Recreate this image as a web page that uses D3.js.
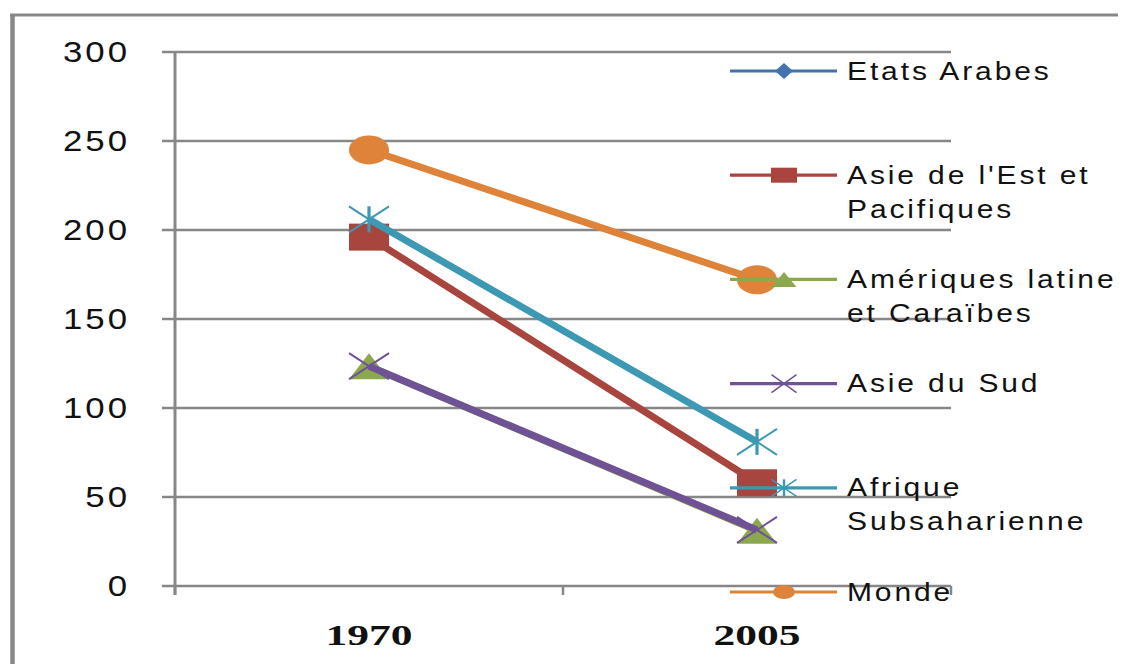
<!DOCTYPE html>
<html>
<head>
<meta charset="utf-8">
<script src="https://cdn.jsdelivr.net/npm/d3@7"></script>
<style>
  html, body { margin: 0; padding: 0; background: #fff; overflow: hidden; }
  svg { display: block; }
</style>
</head>
<body>
<svg id="chart" width="1122" height="664"></svg>
<script>
// ---- Data ----
const categories = ["1970", "2005"];
const seriesNames = ["Etats Arabes", "Asie de l'Est et Pacifiques", "Amériques latine et Caraïbes", "Asie du Sud", "Afrique Subsaharienne", "Monde"];
const legendLines = [["Etats Arabes"], ["Asie de l'Est et", "Pacifiques"], ["Amériques latine", "et Caraïbes"], ["Asie du Sud"], ["Afrique", "Subsaharienne"], ["Monde"]];
const etatsArabes = [196, 58];
const asieEst = [196, 58];
const ameriques = [123.5, 31];
const asieSud = [123.5, 31.5];
const afrique = [206, 81];
const monde = [245, 172];
const yTicks = [0, 50, 100, 150, 200, 250, 300];

const seriesValues = [etatsArabes, asieEst, ameriques, asieSud, afrique, monde];
const colors = ["#4472B0", "#A8453F", "#8CA84E", "#6F5295", "#3D98B3", "#DE8339"];
const markers = ["diamond", "square", "triangle", "x", "star", "circle"];

// ---- Layout ----
const svg = d3.select("#chart");
const W = 1122, H = 664;
const plot = { left: 175, right: 951, top: 52, bottom: 586 };
const axisColor = "#878787";
const sxNum = 1.2, sxLeg = 1.2, sxCat = 1.5;

const x = d3.scalePoint().domain(categories).range([plot.left, plot.right]).padding(0.5);
const y = d3.scaleLinear().domain([0, 300]).range([plot.bottom, plot.top]);

// Outer frame (left and top)
svg.append("line").attr("x1", 12.5).attr("x2", 12.5).attr("y1", 14).attr("y2", H)
  .attr("stroke", "#888").attr("stroke-width", 4.5);
svg.append("line").attr("x1", 10).attr("x2", 1118).attr("y1", 15).attr("y2", 15)
  .attr("stroke", "#888").attr("stroke-width", 3);

// Gridlines (with left stubs)
svg.append("g").selectAll("line").data(yTicks.filter(d => d > 0)).join("line")
  .attr("x1", plot.left - 13).attr("x2", plot.right)
  .attr("y1", d => y(d)).attr("y2", d => y(d))
  .attr("stroke", axisColor).attr("stroke-width", 2.5);

// Y axis
svg.append("line").attr("x1", plot.left).attr("x2", plot.left)
  .attr("y1", plot.top - 1).attr("y2", plot.bottom + 9)
  .attr("stroke", axisColor).attr("stroke-width", 3);
// X axis
svg.append("line").attr("x1", plot.left - 13).attr("x2", plot.right)
  .attr("y1", y(0)).attr("y2", y(0))
  .attr("stroke", axisColor).attr("stroke-width", 2.5);
// X ticks at category boundaries
const step = x.step();
const bounds = [x(categories[0]) - step / 2].concat(categories.map(c => x(c) + step / 2));
svg.append("g").selectAll("line").data(bounds).join("line")
  .attr("x1", d => d).attr("x2", d => d)
  .attr("y1", y(0)).attr("y2", y(0) + 9)
  .attr("stroke", axisColor).attr("stroke-width", 2.5);

// Y labels
svg.append("g").selectAll("text").data(yTicks).join("text")
  .attr("transform", d => `translate(130, ${y(d) + 10}) scale(${sxNum},1)`)
  .attr("text-anchor", "end")
  .attr("font-family", "Liberation Sans, Arial, sans-serif")
  .attr("font-size", 29)
  .attr("letter-spacing", 2.5)
  .attr("fill", "#111")
  .text(d => d);

// Category labels
svg.append("g").selectAll("text").data(categories).join("text")
  .attr("transform", d => `translate(${x(d)}, 645) scale(${sxCat},1)`)
  .attr("text-anchor", "middle")
  .attr("font-family", "Liberation Serif, Times New Roman, serif")
  .attr("font-weight", "bold")
  .attr("font-size", 29)
  .attr("fill", "#111")
  .text(d => d);

// Marker drawing
function drawMarker(g, type, cx, cy, w, h, color, thin) {
  const hw = w / 2, hh = h / 2;
  if (type === "circle") {
    g.append("ellipse").attr("cx", cx).attr("cy", cy).attr("rx", hw).attr("ry", hh).attr("fill", color);
  } else if (type === "square") {
    g.append("rect").attr("x", cx - hw).attr("y", cy - hh).attr("width", w).attr("height", h).attr("fill", color);
  } else if (type === "diamond") {
    g.append("path").attr("d", `M${cx},${cy - hh}L${cx + hw},${cy}L${cx},${cy + hh}L${cx - hw},${cy}Z`).attr("fill", color);
  } else if (type === "triangle") {
    g.append("path").attr("d", `M${cx},${cy - hh}L${cx + hw},${cy + hh}L${cx - hw},${cy + hh}Z`).attr("fill", color);
  } else if (type === "x") {
    g.append("path").attr("d", `M${cx - hw},${cy - hh}L${cx + hw},${cy + hh}M${cx + hw},${cy - hh}L${cx - hw},${cy + hh}`)
      .attr("stroke", color).attr("stroke-width", thin).attr("fill", "none");
  } else if (type === "star") {
    g.append("path").attr("d", `M${cx - hw},${cy - hh}L${cx + hw},${cy + hh}M${cx + hw},${cy - hh}L${cx - hw},${cy + hh}`)
      .attr("stroke", color).attr("stroke-width", thin).attr("fill", "none");
    g.append("path").attr("d", `M${cx},${cy - hh}L${cx},${cy + hh}`)
      .attr("stroke", color).attr("stroke-width", thin * 1.6).attr("fill", "none");
  }
}

// Series lines + markers
const lineGen = d3.line().x((d, i) => x(categories[i])).y(d => y(d));
const plotG = svg.append("g");
seriesValues.forEach((vals, si) => {
  const g = plotG.append("g");
  g.append("path").datum(vals).attr("d", lineGen)
    .attr("fill", "none").attr("stroke", colors[si])
    .attr("stroke-width", si === 0 ? 5 : 7).attr("stroke-linejoin", "round");
  vals.forEach((v, i) => {
    const mw = 40, mh = markers[si] === "circle" ? 29 : (markers[si] === "square" ? 27 : 26);
    drawMarker(g, markers[si], x(categories[i]), y(v), mw, mh, colors[si], 2);
  });
});

// Legend
const legX1 = 730, legX2 = 837, legMid = 784, legTextX = 847;
const legY0 = 71, legStep = 104.2;
const legSizes = { diamond: [18, 16], square: [26, 15], triangle: [25, 15], x: [25, 18], star: [25, 17], circle: [22, 14] };
const legG = svg.append("g");
seriesNames.forEach((name, si) => {
  const ly = legY0 + si * legStep;
  const g = legG.append("g");
  g.append("line").attr("x1", legX1).attr("x2", legX2).attr("y1", ly).attr("y2", ly)
    .attr("stroke", colors[si]).attr("stroke-width", 3.2);
  const sz = legSizes[markers[si]];
  drawMarker(g, markers[si], legMid, ly, sz[0], sz[1], colors[si], 1.5);
  legendLines[si].forEach((t, li) => {
    g.append("text")
      .attr("transform", `translate(${legTextX}, ${ly + 8.5 + li * 34}) scale(${sxLeg},1)`)
      .attr("font-family", "Liberation Sans, Arial, sans-serif")
      .attr("font-size", 25)
      .attr("letter-spacing", 2.4)
      .attr("fill", "#111")
      .text(t);
  });
});
</script>
</body>
</html>
